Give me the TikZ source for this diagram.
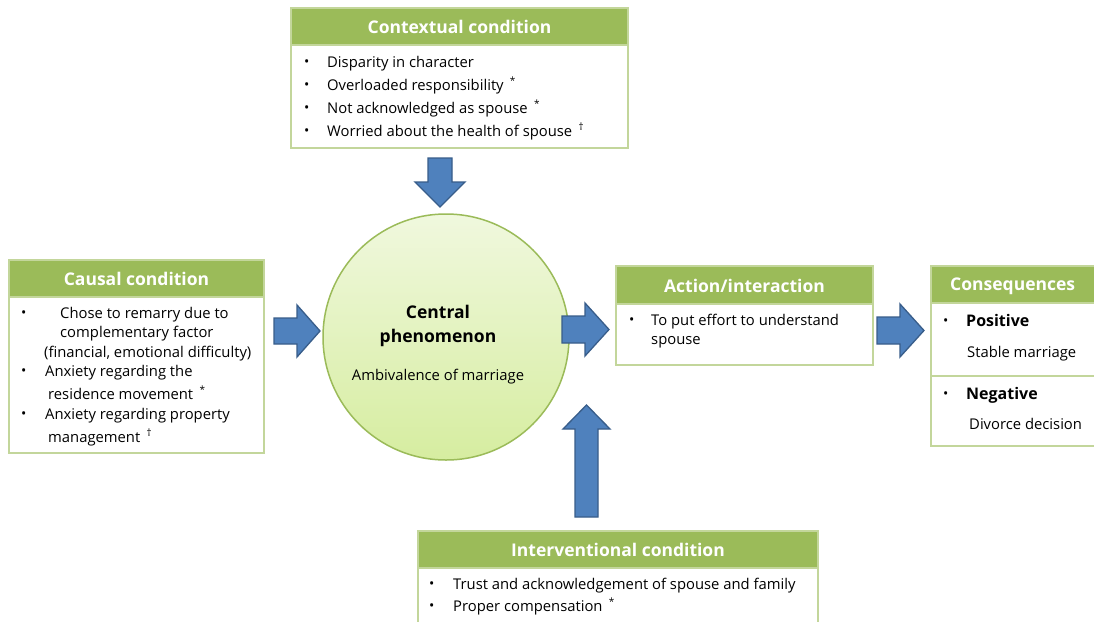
\documentclass[tikz,border=0pt]{standalone}
\usepackage{fontspec}
\setmainfont{Open Sans}
\definecolor{hdr}{HTML}{9BBB59}
\definecolor{bdr}{HTML}{C3D69B}
\definecolor{arf}{HTML}{4F81BD}
\definecolor{ard}{HTML}{385D8A}
\definecolor{circtop}{HTML}{F0F8DE}
\definecolor{circbot}{HTML}{D6EDA0}
\newcommand{\sym}[1]{\,\raisebox{0.75ex}{\fontsize{10}{10}\selectfont #1}}
\begin{document}
\begin{tikzpicture}[x=1pt,y=-1pt,
  box/.style={draw=bdr, line width=1.5pt, fill=white, anchor=north west, inner sep=0pt, outer sep=0pt},
  hbar/.style={fill=hdr, draw=bdr, line width=1.5pt, anchor=north west, inner sep=0pt, outer sep=0pt},
  htext/.style={font=\fontsize{17.5}{20}\selectfont\bfseries, text=white, inner sep=0pt, yshift=-0.8pt},
  btext/.style={font=\fontsize{14.8}{17}\selectfont, anchor=mid west, inner sep=0pt, yshift=-2.5pt},
  bold/.style={font=\fontsize{16}{18}\selectfont\bfseries, anchor=mid west, inner sep=0pt, yshift=-2.5pt},
  bul/.style={font=\fontsize{14}{14}\selectfont, anchor=mid west, inner sep=0pt, yshift=-1.5pt},
  blk/.style={fill=arf, draw=ard, line width=1.3pt, line join=miter}]
\useasboundingbox (0,0) rectangle (1094,621);
\clip (0,0) rectangle (1094,621);
\fill[white] (0,0) rectangle (1094,621);

% ---------- Contextual condition ----------
\node[box, minimum width=337pt, minimum height=140pt] (ctx) at (291,8) {};
\node[hbar, minimum width=337pt, minimum height=37pt] (ctxh) at (291,8) {};
\node[htext] (ctxt) at (ctxh.center) {Contextual condition};
\node[bul] (cb1) at (304,62) {•};
\node[btext] (c1) at (327,62) {Disparity in character};
\node[bul] (cb2) at (304,85) {•};
\node[btext] (c2) at (327,85) {Overloaded responsibility \sym{*}};
\node[bul] (cb3) at (304,108) {•};
\node[btext] (c3) at (327,108) {Not acknowledged as spouse \sym{*}};
\node[bul] (cb4) at (304,131) {•};
\node[btext] (c4) at (327,131) {Worried about the health of spouse \sym{†}};

% ---------- Causal condition ----------
\node[box, minimum width=255pt, minimum height=193pt] (cau) at (9,260) {};
\node[hbar, minimum width=255pt, minimum height=37pt] (cauh) at (9,260) {};
\node[htext] (caut) at (cauh.center) {Causal condition};
\node[bul] (ab1) at (21,313) {•};
\node[btext] (a1) at (60,313) {Chose to remarry due to};
\node[btext] (a2) at (60,332) {complementary factor};
\node[btext] (a3) at (44,352) {(financial, emotional difficulty)};
\node[bul] (ab2) at (21,371) {•};
\node[btext] (a4) at (45,371) {Anxiety regarding the};
\node[btext] (a5) at (48,394) {residence movement \sym{*}};
\node[bul] (ab3) at (21,414) {•};
\node[btext] (a6) at (45,414) {Anxiety regarding property};
\node[btext] (a7) at (48,437) {management \sym{†}};

% ---------- Central phenomenon ----------
\node[circle, draw=hdr, line width=1.5pt, top color=circtop, bottom color=circbot,
      minimum size=246pt, inner sep=0pt] (cen) at (446,337) {};
\node[font=\fontsize{17.5}{24}\selectfont\bfseries, align=center, inner sep=0pt] (cent) at (438,326) {Central\\phenomenon};
\node[font=\fontsize{14.8}{17}\selectfont, inner sep=0pt] (cena) at (438,377) {Ambivalence of marriage};

% ---------- Action/interaction ----------
\node[box, minimum width=257pt, minimum height=99pt] (act) at (616,266) {};
\node[hbar, minimum width=257pt, minimum height=38pt] (acth) at (616,266) {};
\node[htext] (actt) at (acth.center) {Action/interaction};
\node[bul] (tb1) at (629,320) {•};
\node[btext] (t1) at (651,320) {To put effort to understand};
\node[btext] (t2) at (651,339) {spouse};

% ---------- Consequences ----------
\node[box, minimum width=180pt, minimum height=180pt] (con) at (931,266) {};
\node[hbar, minimum width=180pt, minimum height=37pt] (conh) at (931,266) {};
\node[htext, anchor=west] (cont) at (950,285) {Consequences};
\coordinate (divL) at (931,376);
\coordinate (divR) at (1111,376);
\draw[draw=bdr, line width=1.5pt] (divL) -- (divR);
\node[bul] (pb) at (943,321) {•};
\node[bold] (p1) at (966,321) {Positive};
\node[btext] (p2) at (967,352) {Stable marriage};
\node[bul] (nb) at (943,394) {•};
\node[bold] (n1) at (966,394) {Negative};
\node[btext] (n2) at (969,424) {Divorce decision};

% ---------- Interventional condition ----------
\node[box, minimum width=400pt, minimum height=110pt] (int) at (418,531) {};
\node[hbar, minimum width=400pt, minimum height=37pt] (inth) at (418,531) {};
\node[htext] (intt) at (inth.center) {Interventional condition};
\node[bul] (ib1) at (429,584) {•};
\node[btext] (i1) at (453,584) {Trust and acknowledgement of spouse and family};
\node[bul] (ib2) at (429,606) {•};
\node[btext] (i2) at (453,606) {Proper compensation \sym{*}};

% ---------- Block arrows ----------
% down arrow (contextual -> centre)
\draw[blk] (428,158) -- (452,158) -- (452,182) -- (465,182) -- (440,207) -- (415,182) -- (428,182) -- cycle;
% right arrow (causal -> centre)
\draw[blk] (274,318) -- (297,318) -- (297,305) -- (320,331) -- (297,357) -- (297,344) -- (274,344) -- cycle;
% right arrow (centre -> action)
\draw[blk] (562,316) -- (585,316) -- (585,303) -- (609,329.5) -- (585,356) -- (585,343) -- (562,343) -- cycle;
% right arrow (action -> consequences)
\draw[blk] (877,317) -- (900,317) -- (900,304) -- (924,330.5) -- (900,357) -- (900,344) -- (877,344) -- cycle;
% up arrow (interventional -> action)
\draw[blk] (575,517) -- (598,517) -- (598,429) -- (610,429) -- (586.5,405) -- (563,429) -- (575,429) -- cycle;
\end{tikzpicture}
\end{document}
